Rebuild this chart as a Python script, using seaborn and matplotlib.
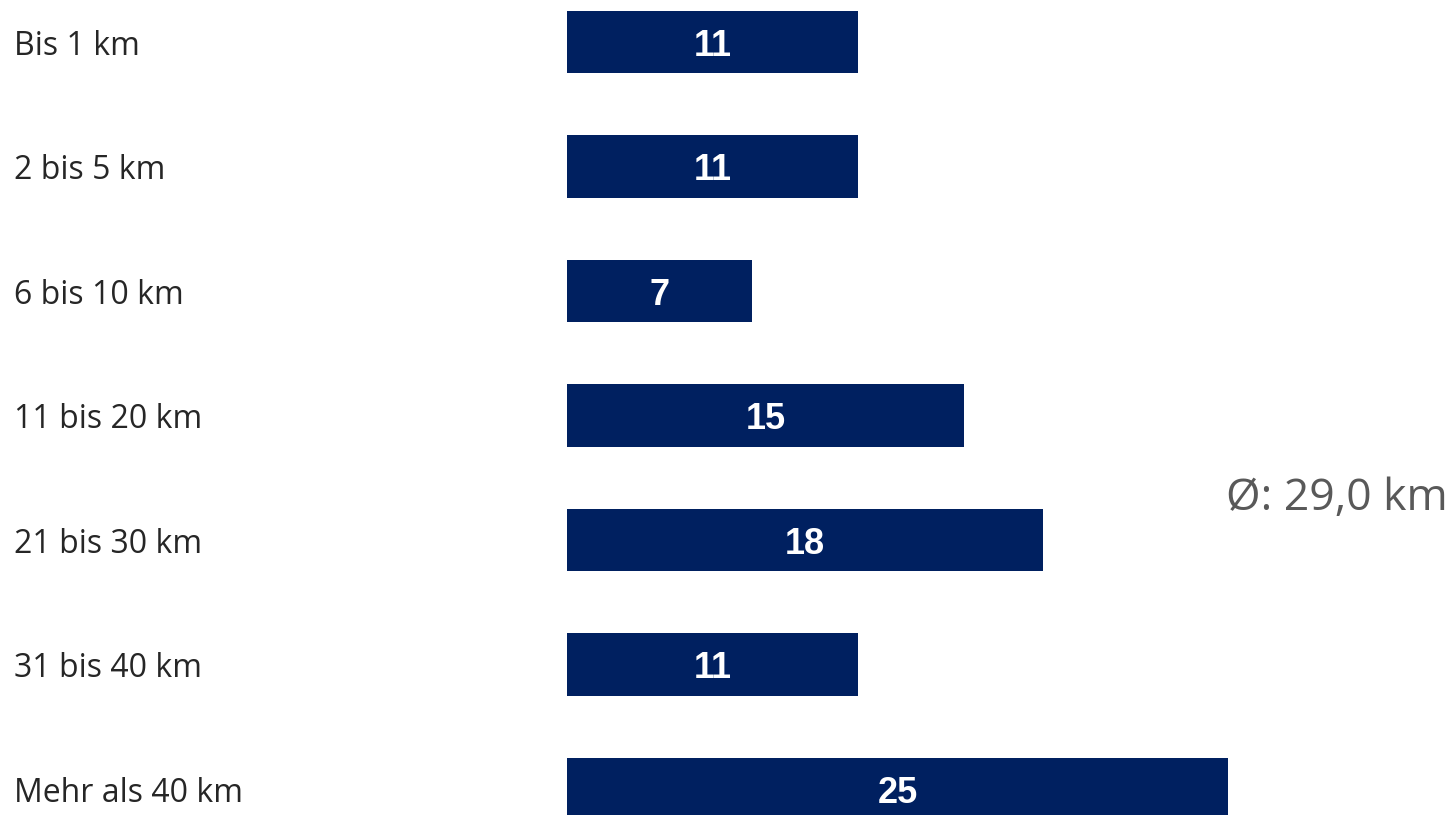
import matplotlib
matplotlib.use("Agg")
import matplotlib.pyplot as plt
import matplotlib.transforms as mtransforms
import seaborn as sns
import pandas as pd

categories = ["Bis 1 km", "2 bis 5 km", "6 bis 10 km", "11 bis 20 km",
              "21 bis 30 km", "31 bis 40 km", "Mehr als 40 km"]
values = [11, 11, 7, 15, 18, 11, 25]
average_label = "Ø: 29,0 km"

df = pd.DataFrame({"cat": categories, "val": values})

sns.set_theme(style="white")
plt.rcParams['font.family'] = ['Open Sans', 'DejaVu Sans']

W, H = 1452, 815
fig = plt.figure(figsize=(W / 100, H / 100), dpi=100)
left = 567 / W
ax = fig.add_axes([left, 0, 1 - left, 1])

sns.barplot(data=df, y="cat", x="val", orient="h", color="#002060",
            width=0.5, saturation=1, linewidth=0, ax=ax)

px_per_unit = 26.45
step = 124.5
ax.set_xlim(0, (W - 567) / px_per_unit)
ax.set_ylim((H - 42) / step, -42 / step)
ax.axis("off")

for i, v in enumerate(values):
    ax.text(v / 2, i + 14 / step, str(v), ha="center", va="baseline", color="white",
            fontsize=26, fontweight="bold", family=["Liberation Sans", "DejaVu Sans"])

trans = mtransforms.blended_transform_factory(fig.transFigure, ax.transData)
for i, c in enumerate(categories):
    ax.text(14 / W, i + 13 / step, c, transform=trans, ha="left", va="baseline",
            color="#262626", fontsize=23)

fig.text(1448 / W, 1 - 510 / H, average_label, ha="right", va="baseline",
         color="#595959", fontsize=32)

fig.savefig("out.png", dpi=100)
